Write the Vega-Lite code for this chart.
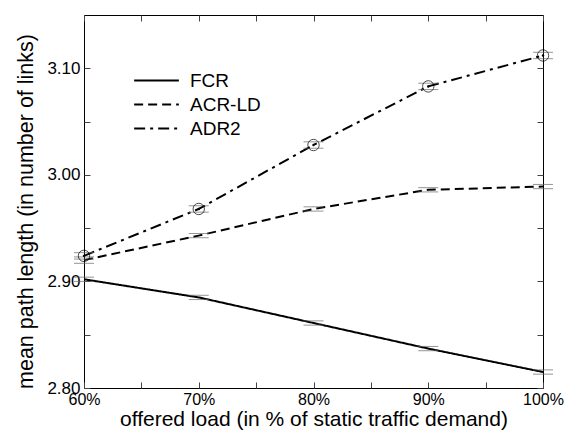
{
  "$schema": "https://vega.github.io/schema/vega-lite/v6.json",
  "width": 459,
  "height": 373,
  "autosize": {"type": "none"},
  "padding": {"left": 84, "top": 15, "right": 21, "bottom": 46},
  "background": "white",
  "config": {
    "font": "Liberation Sans",
    "view": {"stroke": "black", "strokeWidth": 1},
    "axis": {"grid": false, "domain": false, "tickColor": "#444", "tickSize": -6, "labelFont": "Liberation Sans", "titleFont": "Liberation Sans", "labelColor": "black", "titleColor": "black", "titleFontWeight": "normal", "labelFontSize": 17, "titleFontSize": 21}
  },
  "data": {"values": [
    {"load": 60, "series": "FCR", "value": 2.902, "lo": 2.900, "hi": 2.904},
    {"load": 70, "series": "FCR", "value": 2.885, "lo": 2.883, "hi": 2.887},
    {"load": 80, "series": "FCR", "value": 2.861, "lo": 2.859, "hi": 2.863},
    {"load": 90, "series": "FCR", "value": 2.837, "lo": 2.835, "hi": 2.839},
    {"load": 100, "series": "FCR", "value": 2.815, "lo": 2.813, "hi": 2.817},
    {"load": 60, "series": "ACR-LD", "value": 2.920, "lo": 2.917, "hi": 2.923},
    {"load": 70, "series": "ACR-LD", "value": 2.943, "lo": 2.941, "hi": 2.945},
    {"load": 80, "series": "ACR-LD", "value": 2.968, "lo": 2.966, "hi": 2.970},
    {"load": 90, "series": "ACR-LD", "value": 2.986, "lo": 2.984, "hi": 2.988},
    {"load": 100, "series": "ACR-LD", "value": 2.989, "lo": 2.987, "hi": 2.991},
    {"load": 60, "series": "ADR2", "value": 2.924, "lo": 2.921, "hi": 2.927},
    {"load": 70, "series": "ADR2", "value": 2.968, "lo": 2.965, "hi": 2.971},
    {"load": 80, "series": "ADR2", "value": 3.028, "lo": 3.025, "hi": 3.031},
    {"load": 90, "series": "ADR2", "value": 3.083, "lo": 3.080, "hi": 3.086},
    {"load": 100, "series": "ADR2", "value": 3.112, "lo": 3.109, "hi": 3.115}
  ]},
  "layer": [
    {
      "mark": {"type": "line", "color": "black", "strokeWidth": 2},
      "encoding": {
        "x": {"field": "load", "type": "quantitative", "scale": {"domain": [60, 100], "nice": false, "zero": false},
          "axis": {"orient": "bottom", "values": [60, 65, 70, 75, 80, 85, 90, 95, 100], "labelExpr": "datum.value % 10 == 0 ? datum.value + '%' : ''", "title": "offered load (in % of static traffic demand)", "labelFontSize": 16, "labelPadding": 9, "titlePadding": 1, "labelFlush": false}},
        "y": {"field": "value", "type": "quantitative", "scale": {"domain": [2.8, 3.15], "nice": false, "zero": false},
          "axis": {"orient": "left", "values": [2.8, 2.85, 2.9, 2.95, 3.0, 3.05, 3.1], "labelExpr": "abs(datum.value*100 % 10) < 0.01 || abs(datum.value*100 % 10) > 9.99 ? format(datum.value, '.2f') : ''", "title": "mean path length (in number of links)", "titleFontSize": 21.5, "titleY": 196, "labelPadding": 10, "titlePadding": 9}},
        "strokeDash": {"field": "series", "type": "nominal",
          "scale": {"domain": ["FCR", "ACR-LD", "ADR2"], "range": [[1, 0], [9, 5], [11, 5, 3, 5]]},
          "legend": {"title": null, "orient": "none", "legendX": 49, "legendY": 54, "symbolType": "stroke", "symbolSize": 2000, "symbolStrokeWidth": 2, "symbolStrokeColor": "black", "labelFontSize": 19, "labelColor": "black", "clipHeight": 23, "rowPadding": 1, "labelOffset": 10}}
      }
    },
    {
      "mark": {"type": "tick", "orient": "horizontal", "color": "#666", "thickness": 1, "size": 20},
      "encoding": {
        "x": {"field": "load", "type": "quantitative", "axis": null},
        "y": {"field": "lo", "type": "quantitative", "axis": null}
      }
    },
    {
      "mark": {"type": "tick", "orient": "horizontal", "color": "#666", "thickness": 1, "size": 20},
      "encoding": {
        "x": {"field": "load", "type": "quantitative", "axis": null},
        "y": {"field": "hi", "type": "quantitative", "axis": null}
      }
    },
    {
      "transform": [{"filter": "datum.series == 'ADR2'"}],
      "mark": {"type": "point", "shape": "circle", "filled": false, "color": "black", "strokeWidth": 1, "size": 130},
      "encoding": {
        "x": {"field": "load", "type": "quantitative", "axis": null},
        "y": {"field": "value", "type": "quantitative", "axis": null}
      }
    },
    {
      "transform": [{"filter": "datum.series == 'ADR2'"}],
      "mark": {"type": "point", "shape": "circle", "filled": true, "color": "black", "size": 6, "opacity": 1},
      "encoding": {
        "x": {"field": "load", "type": "quantitative",
          "axis": {"orient": "top", "values": [60, 65, 70, 75, 80, 85, 90, 95, 100], "labels": false, "title": null}},
        "y": {"field": "value", "type": "quantitative",
          "axis": {"orient": "right", "values": [2.8, 2.85, 2.9, 2.95, 3.0, 3.05, 3.1], "labels": false, "title": null}}
      }
    }
  ],
  "resolve": {"axis": {"x": "independent", "y": "independent"}}
}
